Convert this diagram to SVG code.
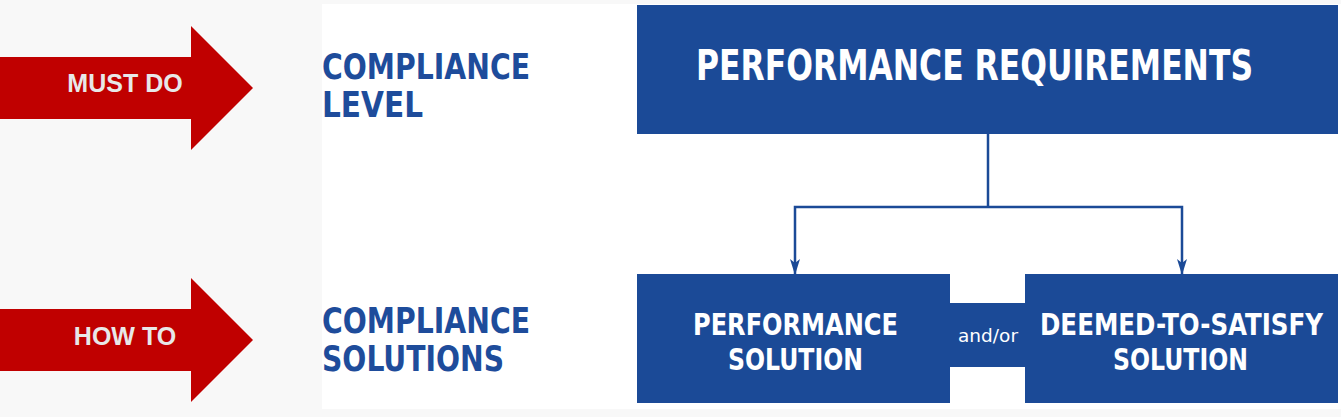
<svg xmlns="http://www.w3.org/2000/svg" width="1341" height="417" viewBox="0 0 1341 417">
<style>
.arrow{fill:#c00000}
.atext{font-family:"Liberation Sans",Arial,sans-serif;font-weight:bold;font-size:25px;fill:#e8e8e8}
.lbl{font-family:"DejaVu Sans Condensed","DejaVu Sans",sans-serif;font-weight:bold;font-size:36px;fill:#1e4c9b}
.box{fill:#1b4a97}
.btext{font-family:"DejaVu Sans Condensed","DejaVu Sans",sans-serif;font-weight:bold;fill:#ffffff}
.conn{stroke:#1b4a97;stroke-width:2.5;fill:none}
</style>
<defs>
<marker id="ah" viewBox="0 0 16 10" refX="16" refY="5" markerWidth="16" markerHeight="10" markerUnits="userSpaceOnUse" orient="auto">
<path d="M0,0 L16,5 L0,10 L4,5 Z" fill="#1b4a97"/>
</marker>
</defs>
<rect x="0" y="0" width="1341" height="417" fill="#f8f8f8"/>
<rect x="322" y="4" width="1019" height="405" fill="#ffffff"/>
<g id="must-do">
<polygon class="arrow" points="0,57 191,57 191,26 253,88 191,150 191,119 0,119"/>
<text class="atext" x="125" y="92" text-anchor="middle">MUST DO</text>
</g>
<g id="how-to">
<polygon class="arrow" points="0,309 191,309 191,278 253,340 191,402 191,371 0,371"/>
<text class="atext" x="125" y="345" text-anchor="middle">HOW TO</text>
</g>
<g id="compliance-level">
<text class="lbl" transform="translate(322,79) scale(0.874,1)" textLength="238" lengthAdjust="spacingAndGlyphs">COMPLIANCE</text>
<text class="lbl" transform="translate(322,117) scale(0.913,1)" textLength="110.6" lengthAdjust="spacingAndGlyphs">LEVEL</text>
</g>
<g id="compliance-solutions">
<text class="lbl" transform="translate(322,332.5) scale(0.874,1)" textLength="238" lengthAdjust="spacingAndGlyphs">COMPLIANCE</text>
<text class="lbl" transform="translate(322,370.5) scale(0.867,1)" textLength="210" lengthAdjust="spacingAndGlyphs">SOLUTIONS</text>
</g>
<g id="performance-requirements">
<rect class="box" x="637" y="5" width="701" height="129"/>
<text class="btext" font-size="43" transform="translate(696,80) scale(0.812,1)" textLength="686" lengthAdjust="spacingAndGlyphs">PERFORMANCE REQUIREMENTS</text>
</g>
<g id="and-or">
<rect class="box" x="949" y="303" width="77" height="64"/>
<text x="988" y="342" text-anchor="middle" font-family="'DejaVu Sans Condensed','DejaVu Sans',sans-serif" font-size="18" fill="#ffffff" textLength="60" lengthAdjust="spacingAndGlyphs">and/or</text>
</g>
<g id="performance-solution">
<rect class="box" x="637" y="274" width="313" height="129"/>
<text class="btext" font-size="30" transform="translate(693,335) scale(0.892,1)" textLength="229.8" lengthAdjust="spacingAndGlyphs">PERFORMANCE</text>
<text class="btext" font-size="30" transform="translate(728,370) scale(0.868,1)" textLength="155.5" lengthAdjust="spacingAndGlyphs">SOLUTION</text>
</g>
<g id="dts-solution">
<rect class="box" x="1025" y="274" width="313" height="129"/>
<text class="btext" font-size="30" transform="translate(1040,335) scale(0.891,1)" textLength="317.6" lengthAdjust="spacingAndGlyphs">DEEMED-TO-SATISFY</text>
<text class="btext" font-size="30" transform="translate(1113,370) scale(0.868,1)" textLength="155.5" lengthAdjust="spacingAndGlyphs">SOLUTION</text>
</g>
<g id="connectors">
<path class="conn" d="M988,134 V207"/>
<path class="conn" d="M988,207 H795 V275" marker-end="url(#ah)"/>
<path class="conn" d="M988,207 H1182 V275" marker-end="url(#ah)"/>
</g>
</svg>
